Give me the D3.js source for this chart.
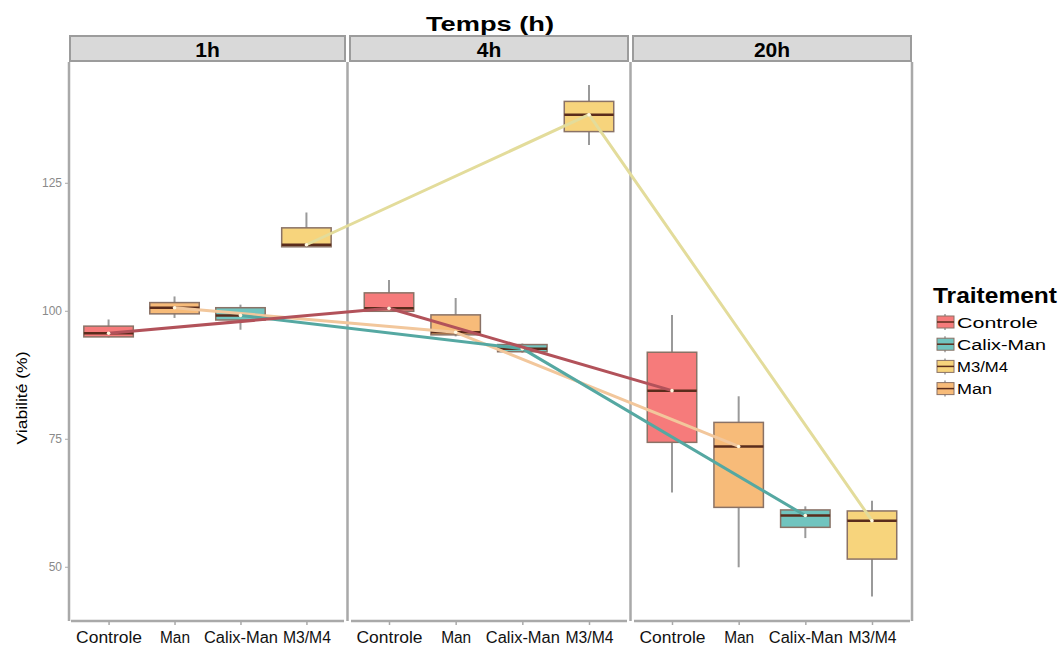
<!DOCTYPE html>
<html><head><meta charset="utf-8">
<script src="https://cdn.jsdelivr.net/npm/d3@7"></script>
<style>body{margin:0;background:#fff}svg{display:block}text{font-family:"Liberation Sans",Arial,sans-serif}</style>
</head><body><svg id="c" width="1062" height="649"></svg>
<script>
// ---- data ----
const times = ["1h", "4h", "20h"];
const categories = ["Controle", "Man", "Calix-Man", "M3/M4"];
const legendOrder = ["Controle", "Calix-Man", "M3/M4", "Man"];
const yTicks = [50, 75, 100, 125];
// [min, q1, median, q3, max] for 1h, 4h, 20h
const controleStats = [[94.8, 94.9, 95.6, 97.0, 98.3], [99.8, 99.9, 100.5, 103.5, 106.0], [64.5, 74.3, 84.4, 91.9, 99.2]];
const manStats      = [[98.6, 99.4, 100.6, 101.6, 102.8], [95.0, 95.3, 95.8, 99.2, 102.5], [49.9, 61.6, 73.5, 78.2, 83.3]];
const calixStats    = [[96.3, 98.2, 99.1, 100.6, 101.2], [91.8, 92.0, 92.6, 93.4, 93.6], [55.6, 57.7, 60.0, 61.1, 61.8]];
const m3m4Stats     = [[112.4, 112.5, 112.9, 116.2, 119.2], [132.4, 135.0, 138.3, 140.9, 144.1], [44.2, 51.5, 59.0, 60.9, 62.9]];

const statsByCat = {"Controle": controleStats, "Man": manStats, "Calix-Man": calixStats, "M3/M4": m3m4Stats};
const fills = {"Controle": "#f67b7b", "Man": "#f7bb79", "Calix-Man": "#71c4bf", "M3/M4": "#f7d47c"};
const lineCols = {"Controle": "#b2525a", "Man": "#f2c79c", "Calix-Man": "#55a8a2", "M3/M4": "#e3dc9b"};
const lineOrder = ["Man", "Calix-Man", "Controle", "M3/M4"];
// rendered text widths (the reference's text is horizontally stretched)
const xLabelWidths = {"Controle": 66, "Man": 30, "Calix-Man": 74, "M3/M4": 48};
const legendWidths = {"Controle": 81, "Calix-Man": 89, "M3/M4": 51, "Man": 35};

const svg = d3.select("#c");
const panelX = [[69, 346], [349, 629], [632, 912]];
const plotBottom = 621;
const y = d3.scaleLinear().domain([39.6, 148.4]).range([620, 63]);
const xs = panelX.map(r => d3.scalePoint().domain(categories).range(r).padding(0.6));
const bw = xs[0].step() * 0.75;

// title
svg.append("text").attr("x", 490).attr("y", 31).attr("text-anchor", "middle")
  .attr("font-size", 21).attr("font-weight", "bold")
  .attr("textLength", 128).attr("lengthAdjust", "spacingAndGlyphs").text("Temps (h)");

// y title
svg.append("text").attr("transform", "translate(27,398) rotate(-90)").attr("text-anchor", "middle")
  .attr("font-size", 14).attr("textLength", 93).attr("lengthAdjust", "spacingAndGlyphs").text("Viabilité (%)");

const grey = "#a9a9a9";
times.forEach((t, i) => {
  const [x0, x1] = panelX[i];
  // strip
  svg.append("rect").attr("x", x0 + 1).attr("y", 36).attr("width", x1 - x0 - 2).attr("height", 25)
    .attr("fill", "#d9d9d9").attr("stroke", "#9c9c9c").attr("stroke-width", 2);
  svg.append("text").attr("x", (x0 + x1) / 2).attr("y", 57).attr("text-anchor", "middle")
    .attr("font-size", 21).attr("font-weight", "bold").text(t);
  // x axis
  const gx = svg.append("g").attr("transform", `translate(0,${plotBottom})`)
    .call(d3.axisBottom(xs[i]).tickSize(4).tickSizeOuter(0));
  gx.select(".domain").attr("stroke", grey).attr("stroke-width", 2.5).attr("d", `M${x0 + 2},0H${x1 - 2}`);
  gx.selectAll(".tick line").attr("stroke", grey).attr("stroke-width", 1.5);
  gx.selectAll(".tick text").attr("font-size", 16).attr("fill", "#111").attr("y", 22).attr("dy", null)
    .attr("font-family", "'Liberation Sans',Arial,sans-serif")
    .attr("textLength", d => xLabelWidths[d]).attr("lengthAdjust", "spacingAndGlyphs");
});
// vertical panel lines
[69, 347.5, 630.5, 912].forEach(x => {
  svg.append("line").attr("x1", x).attr("x2", x).attr("y1", 62).attr("y2", plotBottom)
    .attr("stroke", grey).attr("stroke-width", 2.5);
});
// y axis
const gy = svg.append("g").attr("transform", "translate(68,0)")
  .call(d3.axisLeft(y).tickValues(yTicks).tickSize(3));
gy.select(".domain").remove();
gy.selectAll(".tick line").attr("stroke", grey);
gy.selectAll(".tick text").attr("font-size", 12).attr("fill", "#8a8a8a")
  .attr("font-family", "'Liberation Sans',Arial,sans-serif");

// boxes
times.forEach((t, i) => {
  const g = svg.append("g");
  categories.forEach(c => {
    const s = statsByCat[c][i];
    const cx = xs[i](c);
    g.append("line").attr("x1", cx).attr("x2", cx).attr("y1", y(s[4])).attr("y2", y(s[0]))
      .attr("stroke", "#9a9a9a").attr("stroke-width", 2);
    g.append("rect").attr("x", cx - bw / 2).attr("width", bw).attr("y", y(s[3]))
      .attr("height", y(s[1]) - y(s[3])).attr("fill", fills[c]).attr("stroke", "#8a7266").attr("stroke-width", 1.5);
    g.append("line").attr("x1", cx - bw / 2).attr("x2", cx + bw / 2).attr("y1", y(s[2])).attr("y2", y(s[2]))
      .attr("stroke", "#5a2c1c").attr("stroke-width", 2.5);
  });
});

// lines connecting medians across times
const line = d3.line().x(d => d[0]).y(d => d[1]);
lineOrder.forEach(c => {
  const pts = times.map((t, i) => [xs[i](c), y(statsByCat[c][i][2])]);
  svg.append("path").attr("d", line(pts)).attr("fill", "none")
    .attr("stroke", lineCols[c]).attr("stroke-width", 3).attr("stroke-linejoin", "round");
  pts.forEach(p => svg.append("circle").attr("cx", p[0]).attr("cy", p[1]).attr("r", 1.8).attr("fill", "#fff8e0"));
});

// legend
svg.append("text").attr("x", 933).attr("y", 303).attr("font-size", 22).attr("font-weight", "bold")
  .attr("textLength", 124).attr("lengthAdjust", "spacingAndGlyphs").text("Traitement");
legendOrder.forEach((c, k) => {
  const cy = 322 + k * 22.2;
  const lg = svg.append("g");
  lg.append("line").attr("x1", 945).attr("x2", 945).attr("y1", cy - 8).attr("y2", cy + 8).attr("stroke", "#9a9a9a").attr("stroke-width", 1.5);
  lg.append("rect").attr("x", 937).attr("y", cy - 6).attr("width", 17).attr("height", 12)
    .attr("fill", fills[c]).attr("stroke", "#8a7266").attr("stroke-width", 1);
  lg.append("line").attr("x1", 937).attr("x2", 954).attr("y1", cy).attr("y2", cy).attr("stroke", "#5a2c1c").attr("stroke-width", 1.5);
  lg.append("text").attr("x", 957).attr("y", cy + 5.5).attr("font-size", 15.5)
    .attr("textLength", legendWidths[c]).attr("lengthAdjust", "spacingAndGlyphs").text(c);
});
</script></body></html>
